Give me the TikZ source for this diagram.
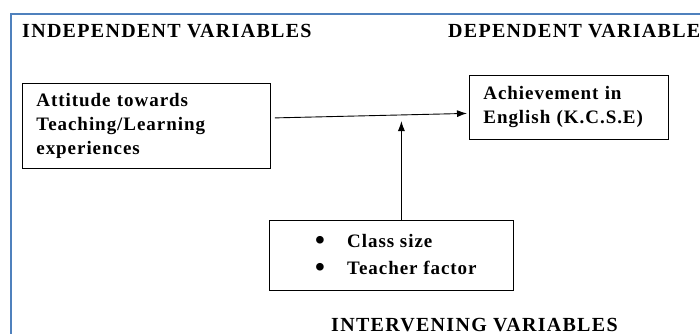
\documentclass[tikz,border=0pt]{standalone}
\usepackage{fontspec}
\setmainfont{Liberation Serif}
\usetikzlibrary{positioning}
\usetikzlibrary{arrows.meta}
\definecolor{frameblue}{RGB}{79,129,189}
\newcommand{\listdot}{\makebox[0pt][l]{\hspace*{-32pt}\raisebox{-1.5pt}{\fontsize{28}{24}\selectfont\textbullet}}}

\begin{document}
\begin{tikzpicture}[
    x=1pt, y=-1pt,
    % Define box and heading styles
    vartext/.style={align=left, anchor=north west,
        font=\fontsize{19}{24}\selectfont\bfseries\addfontfeature{LetterSpace=5}},
    varbox/.style={vartext, draw, thick, inner xsep=14pt, inner ysep=0pt},
    heading/.style={font=\fontsize{20}{22}\selectfont\bfseries\addfontfeature{LetterSpace=6.5},
        anchor=base west, inner sep=0pt},
    link/.style={-{Latex[length=10pt,width=7pt]}, line width=0.9pt}
]

% Page size and clip
\useasboundingbox (0,0) rectangle (700,333);
\clip (0,0) rectangle (700,333);

% Outer frame
\draw[frameblue, line width=1.6pt] (11,340) -- (11,14) -- (710,14);

% Headings
\node[heading] (indep) at (22,37) {INDEPENDENT VARIABLES};
\node[heading] (dep) at (448,37) {DEPENDENT VARIABLES};
\node[heading] (interv) at (331,331) {INTERVENING VARIABLES};

% Variable boxes
\node[varbox, minimum width=248pt, minimum height=85pt, text width=220pt] (attitude) at (22,83)
    {Attitude towards\\Teaching/Learning\\experiences};
\node[varbox, minimum width=199pt, minimum height=64pt, text width=171pt] (achieve) at (469,75)
    {Achievement in\\English (K.C.S.E)};
\node[draw, thick, minimum width=244pt, minimum height=70pt, anchor=north west, inner sep=0pt] (factors) at (269,220) {};
\node[vartext, anchor=west, inner sep=0pt, xshift=78pt] (factorlist) at (factors.west)
    {\listdot Class size\\[3pt]
     \listdot Teacher factor};

% Connectors
\coordinate (meet) at ([xshift=10pt]factors.north |- 0,121);
\draw[link] ([xshift=4pt,yshift=8pt]attitude.east) -- ([xshift=-2pt,yshift=-6pt]achieve.west);
\draw[link] ([xshift=10pt]factors.north) -- (meet);

\end{tikzpicture}
\end{document}
